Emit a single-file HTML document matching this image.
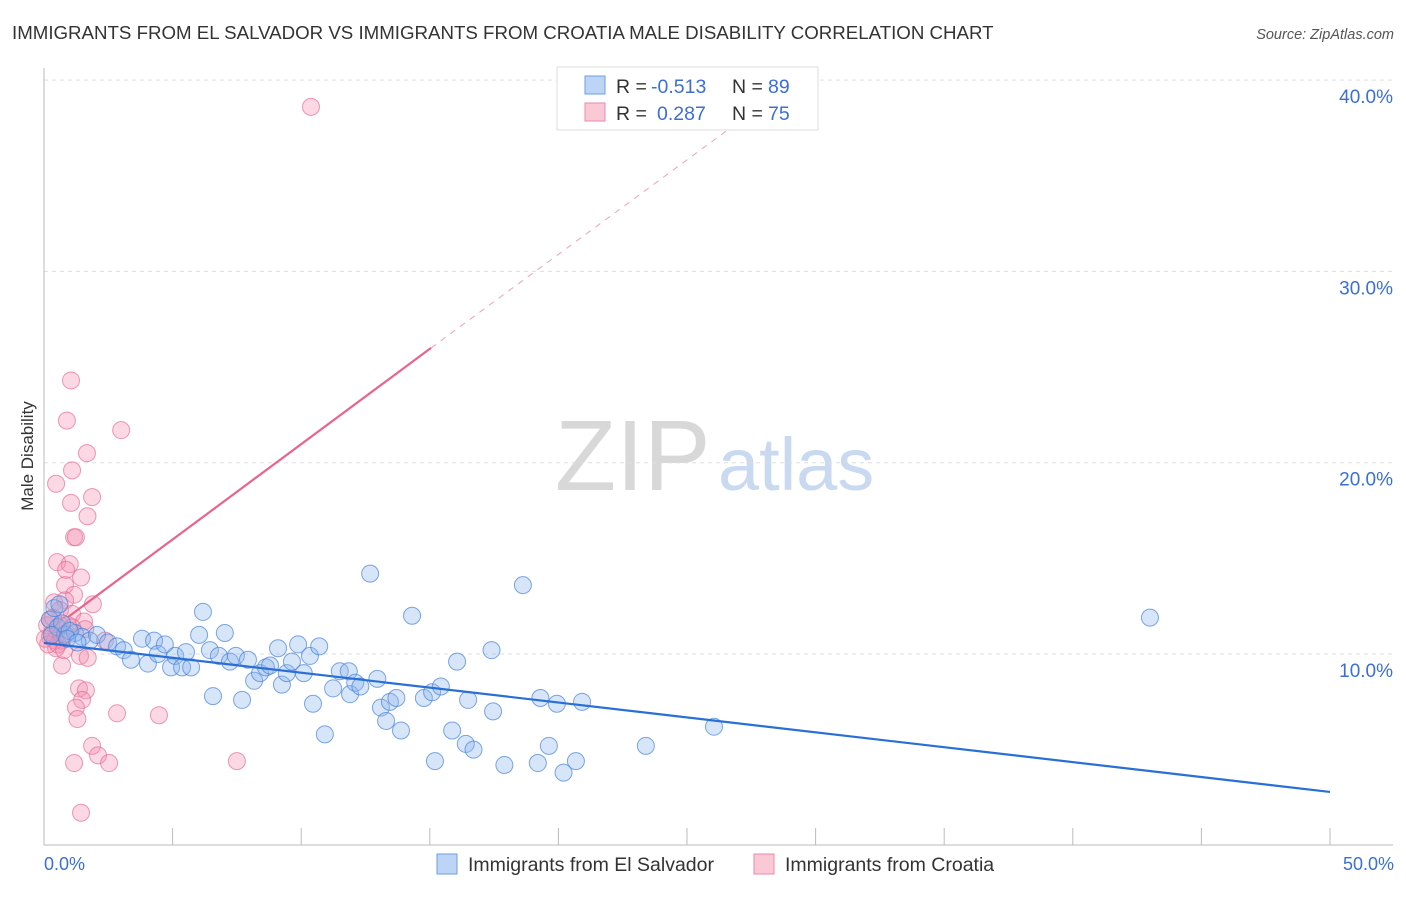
<!DOCTYPE html>
<html><head><meta charset="utf-8"><style>
body{margin:0;background:#fff;font-family:"Liberation Sans",sans-serif}
svg text{font-family:"Liberation Sans",sans-serif}
</style></head><body>
<svg id="chart" width="1406" height="892" xmlns="http://www.w3.org/2000/svg">
<text x="12" y="39" font-size="18.7" fill="#333">IMMIGRANTS FROM EL SALVADOR VS IMMIGRANTS FROM CROATIA MALE DISABILITY CORRELATION CHART</text>
<text x="1394" y="39" font-size="14.5" fill="#555" font-style="italic" text-anchor="end">Source: ZipAtlas.com</text>
<g>
<text x="555" y="490" font-size="100" fill="#d8d8d8" font-family="Liberation Serif,serif">ZIP</text>
<text x="718" y="490" font-size="74" fill="#c9d9ef">atlas</text>
</g>
<g id="grid"></g>
<g id="axes"></g>
<g id="pts"></g>
<g id="trends"></g>
<text transform="translate(33,456) rotate(-90)" font-size="17" fill="#333" text-anchor="middle">Male Disability</text>
<text x="44" y="870" font-size="18" fill="#3b6fd6">0.0%</text>
<text x="1394" y="870" font-size="18" fill="#3b6fd6" text-anchor="end">50.0%</text>
<g>
<rect x="557" y="67" width="261" height="63" fill="#fff" stroke="#ddd"/>
<rect x="585" y="76" width="20" height="18" fill="#bcd4f5" stroke="#6f9ce0"/>
<rect x="585" y="103" width="20" height="18" fill="#fbc8d6" stroke="#eb8aa8"/>
<text x="616" y="93" font-size="19.5" fill="#333">R =</text>
<text x="651" y="93" font-size="19.5" fill="#3b6fd6">-0.513</text>
<text x="732" y="93" font-size="19.5" fill="#333">N =</text>
<text x="768" y="93" font-size="19.5" fill="#3b6fd6">89</text>
<text x="616" y="120" font-size="19.5" fill="#333">R =</text>
<text x="657" y="120" font-size="19.5" fill="#3b6fd6">0.287</text>
<text x="732" y="120" font-size="19.5" fill="#333">N =</text>
<text x="768" y="120" font-size="19.5" fill="#3b6fd6">75</text>
</g>
<g>
<rect x="437" y="854" width="20" height="20" fill="#bcd4f5" stroke="#6f9ce0"/>
<text x="468" y="871" font-size="19.5" fill="#333">Immigrants from El Salvador</text>
<rect x="754" y="854" width="20" height="20" fill="#fbc8d6" stroke="#eb8aa8"/>
<text x="785" y="871" font-size="19.5" fill="#333">Immigrants from Croatia</text>
</g>
</svg>
<script>
const yTicks=[10,20,30,40];
const yTickLabels=["10.0%","20.0%","30.0%","40.0%"];
const xTicks=[0,5,10,15,20,25,30,35,40,45,50];
const blueX=[0.23,0.54,0.82,1.2,1.48,1.78,2.06,2.49,2.84,3.1,3.38,3.81,4.04,4.28,4.43,4.7,4.94,5.1,5.37,5.52,5.72,6.18,6.03,6.45,6.57,6.8,7.03,7.23,7.46,7.7,7.93,8.17,8.4,8.63,8.79,9.1,9.25,9.44,9.64,9.88,10.1,10.34,10.46,10.7,10.92,11.24,11.5,11.85,11.9,12.1,12.3,12.68,12.96,13.1,13.3,13.45,13.7,13.88,14.31,14.77,15.09,15.2,15.43,15.87,16.06,16.4,16.49,16.7,17.4,17.46,17.9,18.62,19.2,19.3,19.63,19.94,20.2,20.68,20.92,23.4,26.05,43.0,0.4,0.7,1.0,0.3,0.9,1.3,0.6];
const blueY=[11.8,11.4,11.0,11.1,10.9,10.7,11.0,10.6,10.4,10.2,9.7,10.8,9.5,10.7,10.0,10.5,9.3,9.9,9.3,10.1,9.3,12.2,11.0,10.2,7.8,9.9,11.1,9.6,9.9,7.6,9.7,8.6,9.0,9.3,9.4,10.3,8.4,9.0,9.6,10.5,9.0,9.9,7.4,10.4,5.8,8.2,9.1,9.1,7.9,8.5,8.3,14.2,8.7,7.2,6.5,7.5,7.7,6.0,12.0,7.7,8.0,4.4,8.3,6.0,9.6,5.3,7.6,5.0,10.2,7.0,4.2,13.6,4.3,7.7,5.2,7.4,3.8,4.4,7.5,5.2,6.2,11.9,12.4,11.6,11.2,11.0,10.8,10.6,12.6];
const pinkX=[10.38,1.05,0.89,3.0,1.67,1.09,0.47,1.87,1.05,1.69,1.17,1.24,0.51,1.0,0.86,1.44,0.82,1.17,1.9,0.39,0.82,0.62,1.09,0.23,1.56,1.6,0.54,0.23,0.7,2.37,0.47,1.4,1.7,0.7,1.36,1.63,1.48,1.24,1.3,2.84,4.47,1.87,2.1,2.53,1.17,7.5,1.44,0.12,0.31,0.43,0.16,0.62,0.86,0.35,0.93,0.04,0.54,1.09,0.78];
const pinkY=[38.6,24.3,22.2,21.7,20.5,19.6,18.9,18.2,17.9,17.2,16.1,16.1,14.8,14.7,14.4,14.0,13.6,13.1,12.6,12.7,12.8,12.3,12.1,11.8,11.7,11.3,11.3,10.9,10.7,10.7,10.3,9.9,9.8,9.4,8.2,8.1,7.6,7.2,6.6,6.9,6.8,5.2,4.7,4.3,4.3,4.4,1.7,11.5,11.1,10.7,10.5,11.5,11.1,11.9,11.5,10.8,10.5,11.4,10.2];
const blueTrend=[[0,10.58],[50,2.79]];
const pinkTrend=[[0.93,11.93],[15.05,26.0]];
const pinkDash=[[15.05,26.0],[27.6,38.4]];
const NS="http://www.w3.org/2000/svg";
const X=v=>44+25.72*v, Y=v=>845.3-19.13*v;
function mk(t,a,p){const e=document.createElementNS(NS,t);for(const k in a)e.setAttribute(k,a[k]);p.appendChild(e);return e;}
const grid=document.getElementById('grid'),axes=document.getElementById('axes'),pts=document.getElementById('pts'),tr=document.getElementById('trends');
yTicks.forEach((t,i)=>{
 const l=mk('line',{x1:44,x2:1393,y1:Y(t),y2:Y(t),stroke:'#ddd','stroke-dasharray':'4,4'},grid);
 
 
 const tx=mk('text',{x:1393,y:Y(t)+23,'font-size':19,fill:'#3b6fd6','text-anchor':'end'},grid);
 tx.textContent=yTickLabels[i];
 
 
});
const ya=mk('line',{x1:44,x2:44,y1:68,y2:845,stroke:'#bbb'},axes);


const xa=mk('line',{x1:44,x2:1393,y1:845,y2:845,stroke:'#bbb'},axes);


xTicks.forEach(t=>{const k=mk('line',{x1:X(t),x2:X(t),y1:828,y2:845,stroke:'#bbb'},axes);
 
 });
pinkX.forEach((v,i)=>{const c=mk('circle',{cx:X(v),cy:Y(pinkY[i]),r:8.5,fill:'rgba(244,143,177,0.35)',stroke:'rgba(230,110,150,0.7)','stroke-width':1},pts);
 
 });
blueX.forEach((v,i)=>{const c=mk('circle',{cx:X(v),cy:Y(blueY[i]),r:8.5,fill:'rgba(140,180,235,0.35)',stroke:'rgba(70,130,220,0.7)','stroke-width':1},pts);
 
 });
const b=mk('line',{x1:X(blueTrend[0][0]),y1:Y(blueTrend[0][1]),x2:X(blueTrend[1][0]),y2:Y(blueTrend[1][1]),stroke:'#2a6fd6','stroke-width':2.2},tr);


const p=mk('line',{x1:X(pinkTrend[0][0]),y1:Y(pinkTrend[0][1]),x2:X(pinkTrend[1][0]),y2:Y(pinkTrend[1][1]),stroke:'#e8648e','stroke-width':2.2},tr);


const d=mk('line',{x1:X(pinkDash[0][0]),y1:Y(pinkDash[0][1]),x2:X(pinkDash[1][0]),y2:Y(pinkDash[1][1]),stroke:'#f0a0b8','stroke-width':1,'stroke-dasharray':'6,6'},tr);


</script>
</body></html>
